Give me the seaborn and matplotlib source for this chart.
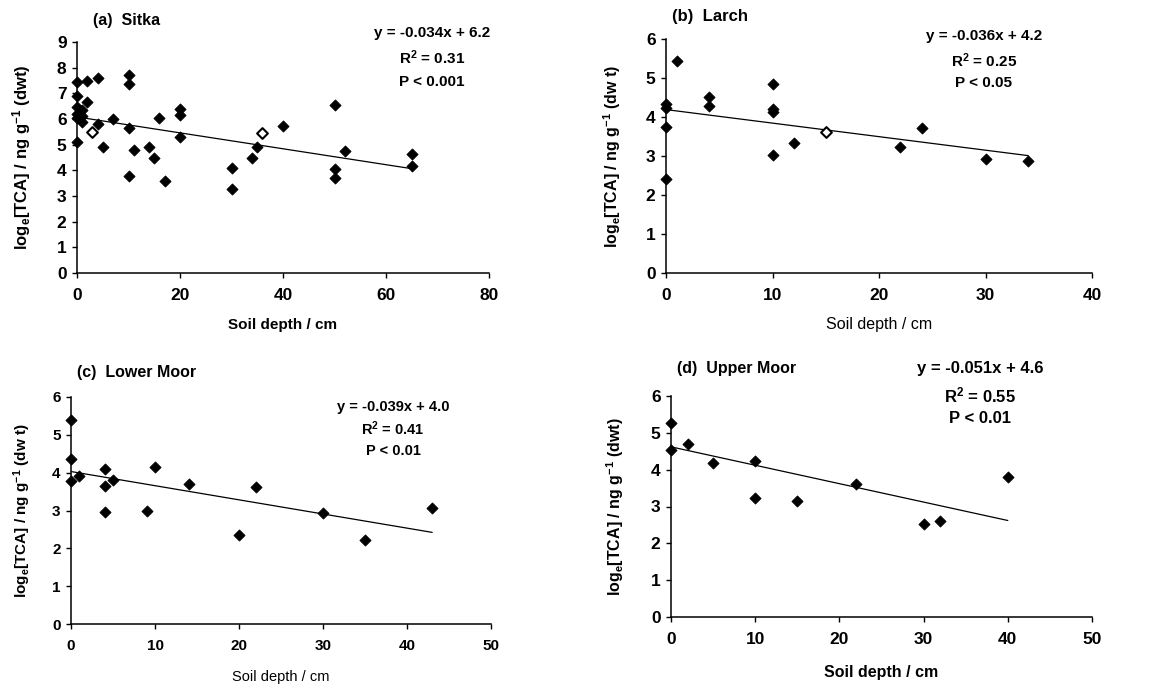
import numpy as np
import pandas as pd
import matplotlib
matplotlib.use("Agg")
import matplotlib.pyplot as plt
import seaborn as sns

# ---------------- data ----------------
sitka_depth = [0, 0, 0, 0, 0, 0, 1, 1, 1, 2, 2, 4, 4, 5, 7, 10, 10, 10, 10, 11, 14, 15,
               16, 17, 20, 20, 20, 30, 30, 34, 35, 40, 50, 50, 50, 52, 65, 65]
sitka_tca = [7.45, 6.9, 6.47, 6.2, 6.05, 5.1, 6.35, 6.1, 5.9, 7.5, 6.65, 7.6, 5.8, 4.9, 6.0,
             7.72, 7.36, 5.64, 3.79, 4.79, 4.92, 4.5, 6.05, 3.59, 6.39, 6.16, 5.31, 4.08,
             3.26, 4.47, 4.92, 5.73, 6.55, 4.05, 3.72, 4.77, 4.62, 4.18]
sitka_open_depth = [3, 36]
sitka_open_tca = [5.5, 5.44]

larch_depth = [0, 0, 0, 0, 1, 4, 4, 10, 10, 10, 10, 12, 22, 24, 30, 34]
larch_tca = [4.34, 4.23, 3.74, 2.42, 5.43, 4.51, 4.27, 4.85, 4.21, 4.13, 3.03, 3.33,
             3.23, 3.72, 2.93, 2.86]
larch_open_depth = [15]
larch_open_tca = [3.61]

lower_depth = [0, 0, 0, 1, 4, 4, 4, 5, 9, 10, 14, 20, 22, 30, 35, 43]
lower_tca = [5.38, 4.37, 3.79, 3.90, 4.10, 3.66, 2.97, 3.80, 2.99, 4.15, 3.70, 2.35,
             3.62, 2.93, 2.21, 3.06]

upper_depth = [0, 0, 2, 5, 10, 10, 15, 22, 30, 32, 40]
upper_tca = [5.27, 4.53, 4.69, 4.19, 4.23, 3.22, 3.15, 3.60, 2.53, 2.61, 3.81]

# drawn trend lines
trend_intercept = [6.08, 4.19, 4.03, 4.62]
trend_slope = [-0.031, -0.0347, -0.0374, -0.050]
trend_xmax = [65, 34, 43, 40]

titles = ["(a)  Sitka", "(b)  Larch", "(c)  Lower Moor", "(d)  Upper Moor"]
equations = ["y = -0.034x + 6.2", "y = -0.036x + 4.2", "y = -0.039x + 4.0", "y = -0.051x + 4.6"]
r_squared = ["0.31", "0.25", "0.41", "0.55"]
p_values = ["P < 0.001", "P < 0.05", "P < 0.01", "P < 0.01"]
x_max = [80, 40, 50, 50]
x_step = [20, 10, 10, 10]
y_max = [9, 6, 6, 6]
ylabels = [r"log$_{e}$[TCA] / ng g$^{-1}$ (dwt)",
           r"log$_{e}$[TCA] / ng g$^{-1}$ (dw t)",
           r"log$_{e}$[TCA] / ng g$^{-1}$ (dw t)",
           r"log$_{e}$[TCA] / ng g$^{-1}$ (dwt)"]
xlabel = "Soil depth / cm"

# ---------------- style ----------------
sns.set_theme(style="white")
plt.rcParams["font.family"] = ["Liberation Sans", "DejaVu Sans"]
plt.rcParams["mathtext.default"] = "regular"
plt.rcParams["axes.unicode_minus"] = False

W, H = 1159, 685
fig = plt.figure(figsize=(W / 100, H / 100), dpi=100)
fig.patch.set_facecolor("white")


def fx(px):
    return px / W


def fy(py):
    return 1 - py / H


# axes boxes in pixels: (left x, right x, top y, bottom y)
boxes = [(77, 489, 42, 273), (666, 1092, 39, 273),
         (71, 491, 397, 624), (671, 1092, 396, 617)]

panels = [
    (sitka_depth, sitka_tca, sitka_open_depth, sitka_open_tca),
    (larch_depth, larch_tca, larch_open_depth, larch_open_tca),
    (lower_depth, lower_tca, [], []),
    (upper_depth, upper_tca, [], []),
]

tick_sizes = [12.5, 12.5, 11, 12.5]
eq_sizes = [11, 11, 10.5, 12]
xlabel_cfg = [(283, 325, 11, "bold"), (879, 325, 11.5, "normal"),
              (281, 677, 10.5, "normal"), (881, 673, 11.5, "bold")]
ylabel_cfg = [(22, 157, 12), (612, 156, 11.5), (22, 511, 11), (615, 507, 11.5)]
title_cfg = [(93, 20, 11.5), (672, 17, 12), (77, 372, 11.5), (677, 369, 11.5)]
eq_cfg = [(432, 33, 58, 82), (984, 36, 61, 83), (393, 407, 429, 451), (980, 369, 395, 418)]

for i in range(4):
    l, r, t, b = boxes[i]
    ax = fig.add_axes([fx(l), fy(b), fx(r - l), (b - t) / H])
    ax.set_facecolor("white")
    dx, dy, ox, oy = panels[i]

    # trend line
    lx = np.array([0, trend_xmax[i]], dtype=float)
    ly = trend_intercept[i] + trend_slope[i] * lx
    sns.lineplot(x=lx, y=ly, color="black", linewidth=0.9, ax=ax, zorder=2)

    # filled diamonds
    sns.scatterplot(x=dx, y=dy, marker="D", s=32, color="black", edgecolor="black",
                    linewidth=0.6, ax=ax, clip_on=False, zorder=3)
    if len(ox):
        sns.scatterplot(x=ox, y=oy, marker="D", s=30, facecolor="white",
                        edgecolor="black", linewidth=1.5, ax=ax, clip_on=False, zorder=4)

    ax.set_xlim(0, x_max[i])
    ax.set_ylim(0, y_max[i])
    ax.set_xticks(np.arange(0, x_max[i] + 1, x_step[i]))
    ax.set_yticks(np.arange(0, y_max[i] + 1, 1))
    for s in ["top", "right"]:
        ax.spines[s].set_visible(False)
    for s in ["left", "bottom"]:
        ax.spines[s].set_color("black")
        ax.spines[s].set_linewidth(1.1)
    ax.tick_params(axis="both", direction="out", length=3.5, width=1, color="black",
                   labelsize=tick_sizes[i], labelcolor="black")
    ax.tick_params(axis="x", pad=7.5, bottom=True)
    ax.tick_params(axis="y", pad=4, left=True)
    for lab in ax.get_xticklabels() + ax.get_yticklabels():
        lab.set_fontweight("bold")
    ax.set_xlabel("")
    ax.set_ylabel("")
    ax.grid(False)

    # texts
    tx, ty, ts = title_cfg[i]
    fig.text(fx(tx), fy(ty), titles[i], ha="left", va="center", fontsize=ts,
             fontweight="bold", color="black")
    ex, e1, e2, e3 = eq_cfg[i]
    fig.text(fx(ex), fy(e1), equations[i], ha="center", va="center",
             fontsize=eq_sizes[i], fontweight="bold", color="black")
    fig.text(fx(ex), fy(e2), r"R$^{2}$ = " + r_squared[i], ha="center", va="center",
             fontsize=eq_sizes[i], fontweight="bold", color="black")
    fig.text(fx(ex), fy(e3), p_values[i], ha="center", va="center",
             fontsize=eq_sizes[i], fontweight="bold", color="black")
    xx, xy, xs, xw = xlabel_cfg[i]
    fig.text(fx(xx), fy(xy), xlabel, ha="center", va="center", fontsize=xs,
             fontweight=xw, color="black")
    yx, yy, ys = ylabel_cfg[i]
    fig.text(fx(yx), fy(yy), ylabels[i], ha="center", va="center", rotation=90,
             fontsize=ys, fontweight="bold", color="black")

fig.savefig("out.png", dpi=100, facecolor="white")
